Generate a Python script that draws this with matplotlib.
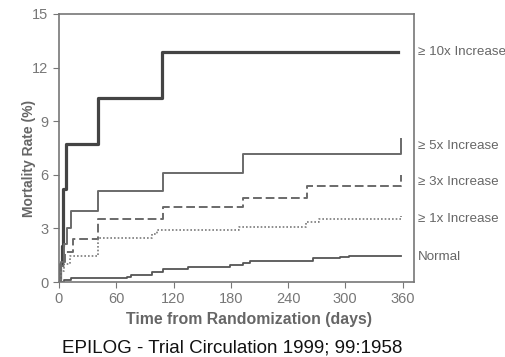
import matplotlib
matplotlib.use("Agg")
import matplotlib.pyplot as plt

plt.rcParams['font.family'] = ['Liberation Sans', 'DejaVu Sans']

# Kaplan-Meier style step data (days, mortality %)
t10 = [0, 1, 3, 4, 7, 41, 108, 355]
m10 = [0, 1.0, 2.0, 5.2, 7.7, 10.3, 12.85, 12.85]

t5 = [0, 2, 5, 8, 13, 41, 109, 193, 357, 358]
m5 = [0, 1.1, 2.1, 3.05, 3.95, 5.1, 6.1, 7.15, 7.15, 8.0]

t3 = [0, 2, 6, 15, 41, 109, 193, 260, 357, 358]
m3 = [0, 0.9, 1.7, 2.4, 3.55, 4.2, 4.7, 5.35, 5.35, 6.0]

t1 = [0, 2, 5, 12, 41, 97, 103, 189, 259, 273, 357, 358]
m1 = [0, 0.6, 1.0, 1.45, 2.45, 2.7, 2.92, 3.1, 3.38, 3.52, 3.52, 3.7]

tn = [0, 5, 13, 71, 75, 97, 109, 135, 179, 193, 200, 266, 294, 304, 358]
mn = [0.02, 0.1, 0.2, 0.3, 0.39, 0.58, 0.71, 0.86, 0.95, 1.05, 1.2, 1.33, 1.42, 1.48, 1.48]

labels = ["\u2265 10x Increase", "\u2265 5x Increase", "\u2265 3x Increase",
          "\u2265 1x Increase", "Normal"]
label_y = [12.85, 7.6, 5.6, 3.55, 1.4]

xticks = [0, 60, 120, 180, 240, 300, 360]
yticks = [0, 3, 6, 9, 12, 15]

fig = plt.figure(figsize=(5.06, 3.57), dpi=100)
ax = fig.add_axes([0.1166, 0.21, 0.7015, 0.751])

ax.step(t10, m10, where='post', color='#444444', lw=2.3)
ax.step(t5, m5, where='post', color='#6a6a6a', lw=1.4)
ax.step(t3, m3, where='post', color='#6a6a6a', lw=1.4, dashes=(4.5, 2))
ax.step(t1, m1, where='post', color='#7a7a7a', lw=1.2, dashes=(1, 1.2))
ax.step(tn, mn, where='post', color='#555555', lw=1.3)

ax.set_xlim(0, 372)
ax.set_ylim(0, 15)
ax.set_xticks(xticks)
ax.set_yticks(yticks)

for s in ax.spines.values():
    s.set_color('#777777')
    s.set_linewidth(1.2)
ax.tick_params(colors='#777777', labelcolor='#777777', labelsize=10.5, length=4)

for lab, y in zip(labels, label_y):
    ax.text(1.012, y, lab, transform=ax.get_yaxis_transform(), fontsize=9.6,
            color='#666666', va='center', ha='left')

ax.set_xlabel("Time from Randomization (days)", fontsize=11.4, fontweight='bold',
              color='#666666')
ax.xaxis.set_label_coords(0.535, -0.11)
ax.set_ylabel("Mortality Rate (%)", fontsize=10, fontweight='bold',
              color='#666666')
ax.yaxis.set_label_coords(-0.066, 0.46)

fig.text(0.4595, 0.025, "EPILOG - Trial Circulation 1999; 99:1958", fontsize=13.5,
         color='#111111', ha='center', va='center')

fig.savefig("out.png", dpi=100)
